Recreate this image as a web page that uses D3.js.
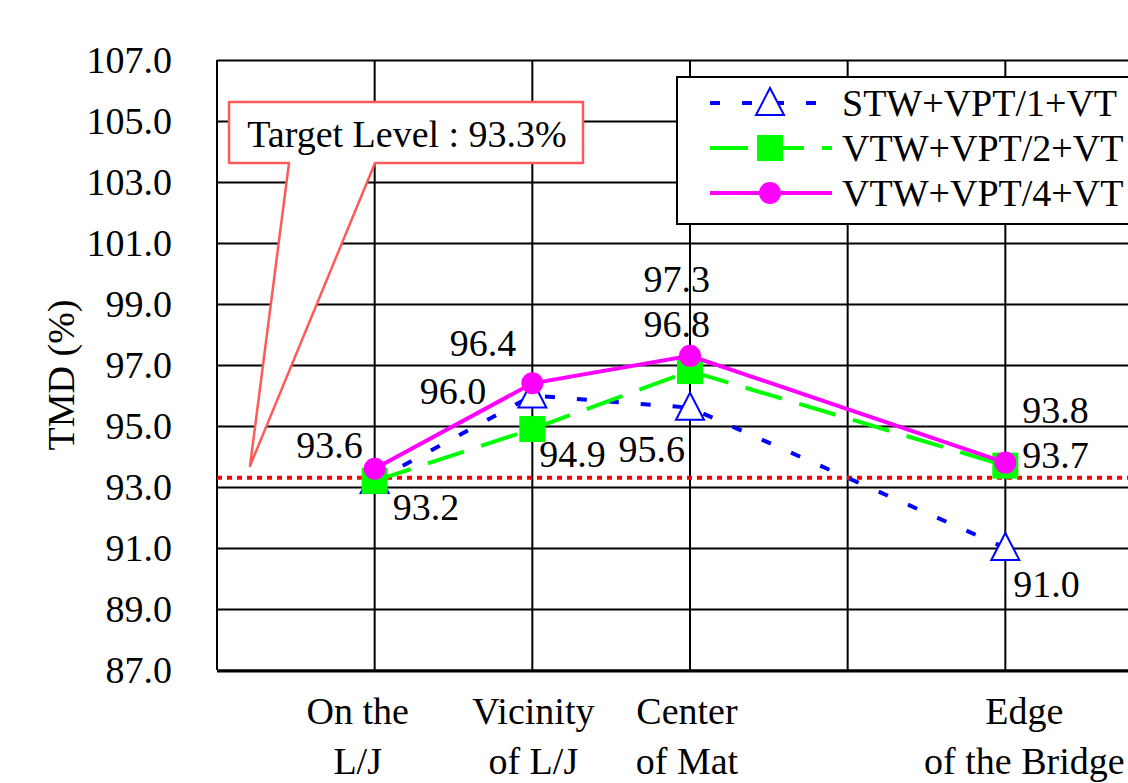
<html lang="en">
  <head>
    <title>TMD (%)</title>
    <script src="https://d3js.org/d3.v7.min.js"></script>
    <style>
      body { margin: 0; background: white; }
      text { font-family: "Liberation Serif", "Times New Roman", serif; fill: black; }
    </style>
  </head>
  <body>
  <script>

  // data
  var categories = [["On the", "L/J"], ["Vicinity", "of L/J"], ["Center", "of Mat"], ["Edge", "of the Bridge"]];
  var catSlots = [1, 2, 3, 5];
  var seriesNames = ["STW+VPT/1+VT", "VTW+VPT/2+VT", "VTW+VPT/4+VT"];
  var stwValues = [93.2, 96.0, 95.6, 91.0];
  var vtw2Values = [93.2, 94.9, 96.8, 93.7];
  var vtw4Values = [93.6, 96.4, 97.3, 93.8];
  var yTicks = [87, 89, 91, 93, 95, 97, 99, 101, 103, 105, 107];
  var targetLevel = 93.3;
  var targetText = "Target Level : 93.3%";

  var w = 1128;
  var h = 783;
  var margin = {top: 60, left: 217, bottom: 113};
  var plotRight = 1163;   // plot goes past the picture edge
  var fs = 38;

  var xScale = d3.scaleLinear().domain([0, 6]).range([margin.left, plotRight]);
  var yScale = d3.scaleLinear().domain([87, 107]).range([h - margin.bottom, margin.top]);

  var svg = d3.select("body").append("svg")
      .attr("width", w)
      .attr("height", h);

  svg.append("rect").attr("width", w).attr("height", h).attr("fill", "white");

  // grid + y axis
  var yAxis = d3.axisLeft(yScale)
      .tickValues(yTicks)
      .tickFormat(d3.format(".1f"))
      .tickSizeInner(-(plotRight - margin.left))
      .tickSizeOuter(0)
      .tickPadding(45);

  var gy = svg.append("g")
      .attr("transform", `translate(${margin.left},0)`)
      .call(yAxis);
  gy.select(".domain").remove();
  gy.selectAll(".tick line").attr("stroke", "black").attr("stroke-width", 2);
  gy.selectAll(".tick text")
      .attr("font-size", fs)
      .attr("font-family", "Liberation Serif")
      .attr("fill", "black");

  svg.append("g").selectAll("line")
    .data(d3.range(0, 7))
    .enter().append("line")
      .attr("x1", d => xScale(d))
      .attr("x2", d => xScale(d))
      .attr("y1", yScale(107))
      .attr("y2", yScale(87))
      .attr("stroke", "black")
      .attr("stroke-width", 2);

  svg.append("line")
    .attr("x1", margin.left).attr("x2", plotRight)
    .attr("y1", yScale(87) + 1).attr("y2", yScale(87) + 1)
    .attr("stroke", "black").attr("stroke-width", 3);

  // y title
  svg.append("text")
    .attr("transform", "translate(74,375) rotate(-90)")
    .attr("text-anchor", "middle")
    .attr("font-size", fs)
    .text("TMD (%)");

  // x labels
  var labelShift = [-17, 1, -3, 19];
  var xl = svg.append("g").selectAll("text")
    .data(categories)
    .enter().append("text")
      .attr("text-anchor", "middle")
      .attr("font-size", fs)
      .attr("x", (d, i) => xScale(catSlots[i]) + labelShift[i]);
  xl.append("tspan").attr("y", 724).text(d => d[0]);
  xl.append("tspan").attr("y", 774).attr("x", (d, i) => xScale(catSlots[i]) + labelShift[i]).text(d => d[1]);

  // target line
  svg.append("line")
    .attr("x1", margin.left).attr("x2", plotRight)
    .attr("y1", yScale(targetLevel)).attr("y2", yScale(targetLevel))
    .attr("stroke", "red")
    .attr("stroke-width", 4)
    .attr("stroke-dasharray", "5,5");

  // callout
  svg.append("path")
    .attr("d", `M229,102 H583 V163 H375 L250,466 L289,163 H229 Z`)
    .attr("fill", "white")
    .attr("stroke", "#ff5a5a")
    .attr("stroke-width", 2.5)
    .attr("stroke-linejoin", "round");
  svg.append("text")
    .attr("x", 407).attr("y", 147)
    .attr("text-anchor", "middle")
    .attr("font-size", fs)
    .text(targetText);

  // legend box
  svg.append("rect")
    .attr("x", 677).attr("y", 77)
    .attr("width", 500).attr("height", 147)
    .attr("fill", "white")
    .attr("stroke", "black")
    .attr("stroke-width", 2);

  var styles = [
    {color: "blue", dash: "10,22", marker: "tri"},
    {color: "#00ff00", dash: "38,18", marker: "sq"},
    {color: "magenta", dash: null, marker: "dot"}
  ];
  var allValues = [stwValues, vtw2Values, vtw4Values];

  // label offsets [dx, dy, anchor]
  var labelPos = [
    [[18, 39, "start"], [-46, 8, "end"], [-5, 54, "end"], [8, 49, "start"]],
    [null, [7, 38, "start"], [20, -34, "end"], [17, 2, "start"]],
    [[-12, -11, "end"], [-16, -27, "end"], [20, -64, "end"], [17, -40, "start"]]
  ];

  function drawMarker(g, kind, color, x, y) {
    if (kind == "tri") {
      g.append("path")
        .attr("d", `M${x},${y - 15} L${x + 14},${y + 12} L${x - 14},${y + 12} Z`)
        .attr("fill", "white").attr("stroke", color).attr("stroke-width", 2);
    } else if (kind == "sq") {
      g.append("rect")
        .attr("x", x - 13).attr("y", y - 13).attr("width", 26).attr("height", 26)
        .attr("fill", color);
    } else {
      g.append("circle").attr("cx", x).attr("cy", y).attr("r", 11).attr("fill", color);
    }
  }

  var line = d3.line()
    .x((d, i) => xScale(catSlots[i]))
    .y(d => yScale(d));

  allValues.forEach(function(vals, s) {
    var st = styles[s];
    var g = svg.append("g");
    g.append("path")
      .attr("d", line(vals))
      .attr("fill", "none")
      .attr("stroke", st.color)
      .attr("stroke-width", 4)
      .attr("stroke-dasharray", st.dash);
    vals.forEach(function(v, i) {
      drawMarker(g, st.marker, st.color, xScale(catSlots[i]), yScale(v));
    });

    // legend entry
    var ly = 103 + s * 45;
    svg.append("line")
      .attr("x1", 710).attr("x2", 832)
      .attr("y1", ly).attr("y2", ly)
      .attr("stroke", st.color).attr("stroke-width", 4)
      .attr("stroke-dasharray", st.dash);
    drawMarker(svg, st.marker, st.color, 770, ly);
    svg.append("text")
      .attr("x", 842).attr("y", ly + 13)
      .attr("font-size", fs)
      .text(seriesNames[s]);
  });

  // data labels
  allValues.forEach(function(vals, s) {
    vals.forEach(function(v, i) {
      var p = labelPos[s][i];
      if (!p) return;
      svg.append("text")
        .attr("x", xScale(catSlots[i]) + p[0])
        .attr("y", yScale(v) + p[1])
        .attr("text-anchor", p[2])
        .attr("font-size", fs)
        .text(d3.format(".1f")(v));
    });
  });

  </script>
  </body>
</html>
